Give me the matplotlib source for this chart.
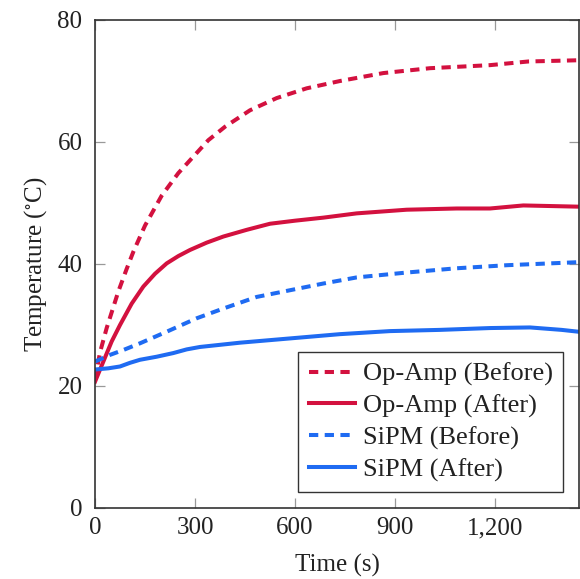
import matplotlib
matplotlib.use("Agg")
import matplotlib.pyplot as plt

plt.rcParams['font.family'] = ['Liberation Serif', 'DejaVu Serif']
plt.rcParams['mathtext.fontset'] = 'stix'

# Data (time in s, temperature in °C)
t_opamp_before = [0, 15, 35, 70, 95, 115, 150, 200, 250, 285, 340, 390, 465, 545, 635, 735, 865, 1005, 1185, 1300, 1450]
T_opamp_before = [21.0, 25.5, 29.5, 35.5, 39.2, 42.0, 46.3, 51.2, 54.9, 57.0, 60.3, 62.5, 65.2, 67.2, 68.8, 70.0, 71.3, 72.1, 72.6, 73.2, 73.4]

t_opamp_after = [0, 25, 50, 75, 110, 145, 180, 215, 250, 285, 335, 385, 455, 525, 600, 685, 785, 935, 1085, 1185, 1285, 1450]
T_opamp_after = [20.7, 24.0, 27.3, 30.0, 33.5, 36.3, 38.4, 40.1, 41.3, 42.3, 43.5, 44.5, 45.6, 46.6, 47.1, 47.6, 48.3, 48.9, 49.1, 49.1, 49.6, 49.4]

t_sipm_before = [0, 45, 85, 135, 215, 260, 305, 385, 485, 585, 685, 785, 935, 1085, 1235, 1450]
T_sipm_before = [24.0, 25.1, 25.9, 27.0, 28.9, 30.0, 31.1, 32.7, 34.6, 35.7, 36.8, 37.8, 38.6, 39.3, 39.8, 40.3]

t_sipm_after = [0, 40, 75, 105, 135, 185, 235, 275, 315, 435, 585, 735, 885, 1035, 1185, 1305, 1400, 1450]
T_sipm_after = [22.7, 22.9, 23.2, 23.8, 24.3, 24.8, 25.4, 26.0, 26.4, 27.1, 27.8, 28.5, 29.0, 29.2, 29.5, 29.6, 29.2, 28.9]

x_ticks = [0, 300, 600, 900, 1200]
x_ticklabels = ['0', '300', '600', '900', '1,200']
y_ticks = [0, 20, 40, 60, 80]

red = '#D3113F'
blue = '#1F6BF2'

fig = plt.figure(figsize=(5.8, 5.79), dpi=100)
ax = fig.add_axes([95/580, 1 - 508/579, (579 - 95)/580, (508 - 20)/579])

lw = 2.9
l1, = ax.plot(t_opamp_before, T_opamp_before, color=red, lw=lw, ls='--', label='Op-Amp (Before)')
l1.set_dashes((2.3, 1.6))
ax.plot(t_opamp_after, T_opamp_after, color=red, lw=lw, label='Op-Amp (After)')
l3, = ax.plot(t_sipm_before, T_sipm_before, color=blue, lw=lw, ls='--', label='SiPM (Before)')
l3.set_dashes((2.3, 1.6))
ax.plot(t_sipm_after, T_sipm_after, color=blue, lw=lw, label='SiPM (After)')

ax.set_xlim(0, 1452)
ax.set_ylim(0, 80)
ax.set_xticks(x_ticks)
ax.set_xticklabels(x_ticklabels)
ax.set_yticks(y_ticks)
ax.tick_params(direction='in', length=7, width=0.9, color='#999999', top=True, right=True,
               labelsize=18, labelcolor='#222222')
ax.tick_params(axis='x', pad=6.5)
ax.tick_params(axis='y', pad=9)
for s in ax.spines.values():
    s.set_color('#333333')
    s.set_linewidth(1.2)

ax.set_xlabel('Time (s)', fontsize=18, color='#222222', labelpad=11)
ax.set_ylabel('Temperature ($^{\\circ}$C)', fontsize=18, color='#222222', labelpad=6)

leg = ax.legend(loc='lower right', fontsize=19, frameon=True, fancybox=False,
                edgecolor='#333333', framealpha=1, borderaxespad=0.6,
                handlelength=1.75, handletextpad=0.3, labelspacing=0.3, borderpad=0.4)
leg.get_frame().set_linewidth(1.0)
for t in leg.get_texts():
    t.set_color('#222222')

fig.savefig('out.png', dpi=100)
